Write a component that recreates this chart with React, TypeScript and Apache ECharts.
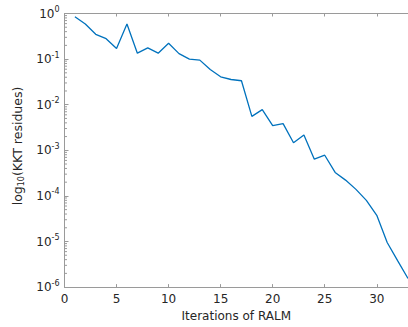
import React, { useEffect, useRef } from "react";
import * as echarts from "echarts";

const iterations = [1, 2, 3, 4, 5, 6, 7, 8, 9, 10, 11, 12, 13, 14, 15, 16, 17, 18, 19, 20, 21, 22, 23, 24, 25, 26, 27, 28, 29, 30, 31, 32, 33];
const kktResidues = [
  0.85, 0.59, 0.35, 0.28, 0.17, 0.59, 0.135, 0.176, 0.135, 0.223, 0.132, 0.1, 0.095, 0.059, 0.041, 0.0357, 0.0335,
  0.00555, 0.00778, 0.00347, 0.00384, 0.00146, 0.00217, 0.000638, 0.00078, 0.000327, 0.000222, 0.000139,
  7.98e-5, 3.75e-5, 9.5e-6, 3.8e-6, 1.55e-6,
];
const xMin = 0;
const xMax = 33;
const xTickStep = 5;
const yMin = 1e-6;
const yMax = 1;
const minorMultipliers = [2, 3, 4, 5, 6, 7, 8, 9];
const minorDecades = [-6, -5, -4, -3, -2, -1];
const yTitle = "log{sub|10}(KKT residues)";
const xTitle = "Iterations of RALM";

const AXIS_COLOR = "#9a9a9a";
const TEXT_COLOR = "#262626";
const FONT = "DejaVu Sans";

export default function App() {
  const ref = useRef<HTMLDivElement>(null);
  useEffect(() => {
    if (!ref.current) return;
    const chart = echarts.init(ref.current, null, { renderer: "svg" });
    const minorValues: number[][] = [];
    minorDecades.forEach((d) => minorMultipliers.forEach((m) => minorValues.push([xMin, m * Math.pow(10, d)])));
    chart.setOption({
      animation: false,
      textStyle: { fontFamily: FONT },
      grid: { left: 64.5, top: 13.5, width: 347.5, height: 274.5 },
      graphic: [
        {
          type: "text",
          x: 17.5,
          y: 146,
          rotation: Math.PI / 2,
          silent: true,
          style: {
            text: yTitle,
            fill: TEXT_COLOR,
            fontSize: 12.5,
            fontFamily: FONT,
            align: "center",
            verticalAlign: "middle",
            rich: {
              sub: { fontSize: 8, fontFamily: FONT, fill: TEXT_COLOR, padding: [8, 0, 0, 0] },
            },
          },
        },
      ],
      xAxis: [
        {
          type: "value",
          min: xMin,
          max: xMax,
          interval: xTickStep,
          position: "bottom",
          name: xTitle,
          nameLocation: "middle",
          nameGap: 20,
          nameTextStyle: { color: TEXT_COLOR, fontSize: 12, fontFamily: FONT },
          axisLine: { show: true, lineStyle: { color: AXIS_COLOR, width: 1 } },
          axisTick: { show: true, inside: true, length: 3, lineStyle: { color: AXIS_COLOR } },
          axisLabel: {
            color: TEXT_COLOR,
            fontSize: 12,
            fontFamily: FONT,
            margin: 6,
            showMaxLabel: false,
          },
          splitLine: { show: false },
        },
        {
          type: "value",
          min: xMin,
          max: xMax,
          interval: xTickStep,
          position: "top",
          axisLine: { show: true, lineStyle: { color: AXIS_COLOR, width: 1 } },
          axisTick: { show: true, inside: true, length: 3, lineStyle: { color: AXIS_COLOR } },
          axisLabel: { show: false },
          splitLine: { show: false },
        },
      ],
      yAxis: {
        type: "log",
        logBase: 10,
        min: yMin,
        max: yMax,
        splitNumber: 6,
        axisLine: { show: true, lineStyle: { color: AXIS_COLOR, width: 1 } },
        axisTick: { show: true, inside: true, length: 4, lineStyle: { color: AXIS_COLOR } },
        axisLabel: {
          color: TEXT_COLOR,
          fontSize: 12,
          fontFamily: FONT,
          margin: 5,
          formatter: (v: number) => {
            const e = Math.round(Math.log10(v));
            return "10{sup|" + (e < 0 ? "-" + -e : String(e)) + "}";
          },
          rich: {
            sup: { fontSize: 8, fontFamily: FONT, color: TEXT_COLOR, padding: [0, 0, 8, 0] },
          },
        },
        splitLine: { show: false },
      },
      series: [
        {
          type: "custom",
          xAxisIndex: 0,
          silent: true,
          clip: false,
          data: minorValues,
          encode: { x: 0, y: 1 },
          renderItem: (params: any, api: any) => {
            const p = api.coord([api.value(0), api.value(1)]);
            return {
              type: "line",
              shape: { x1: p[0], y1: p[1], x2: p[0] + 2.5, y2: p[1] },
              style: { stroke: AXIS_COLOR, lineWidth: 1 },
            };
          },
        },
        {
          type: "line",
          xAxisIndex: 0,
          showSymbol: false,
          symbol: "none",
          data: iterations.map((x, i) => [x, kktResidues[i]]),
          lineStyle: { color: "#0072BD", width: 1.3 },
          itemStyle: { color: "#0072BD" },
        },
      ],
    });
    return () => chart.dispose();
  }, []);
  return (
    <div
      ref={ref}
      style={{ position: "absolute", left: 0, top: 0, width: 408, height: 327, background: "#fff" }}
    />
  );
}
